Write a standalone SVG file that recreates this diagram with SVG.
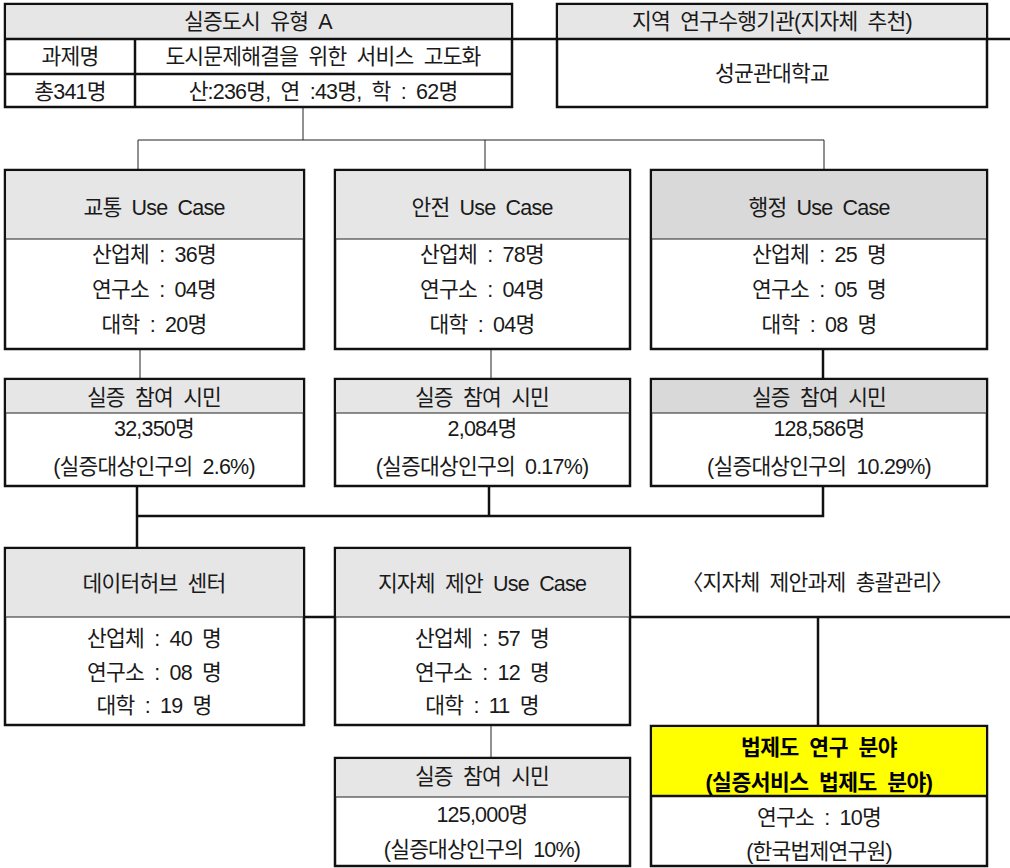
<svg xmlns="http://www.w3.org/2000/svg" width="1010" height="868" viewBox="0 0 1010 868">
<style>
text{font-family:"Liberation Sans","Noto Sans CJK KR",sans-serif;font-size:21.5px;fill:#1a1a1a;text-anchor:middle;word-spacing:5px;letter-spacing:-0.8px}
.b{font-weight:bold;fill:#000;letter-spacing:-0.5px}
.box{fill:#fff;stroke:#111;stroke-width:2.5}
.h1{fill:#e6e6e6}
.h2{fill:#d9d9d9}
.hy{fill:#ffff00}
.thin{stroke:#222;stroke-width:1;fill:none}
.thick{stroke:#111;stroke-width:2.5;fill:none}
</style>
<g id="connectors">
<line class="thick" x1="512" y1="39" x2="1010" y2="39"/>
<polyline class="thin" points="303,107 303,140"/>
<polyline class="thin" points="138,170 138,140 824,140 824,170"/>
<line class="thin" x1="485" y1="140" x2="485" y2="170"/>
<line class="thin" x1="140" y1="349" x2="140" y2="379"/>
<line class="thin" x1="491" y1="349" x2="491" y2="379"/>
<line class="thick" x1="823" y1="349" x2="823" y2="379"/>
<line class="thick" x1="137" y1="486" x2="137" y2="548"/>
<polyline class="thick" points="137,516 823,516 823,486"/>
<line class="thick" x1="489" y1="486" x2="489" y2="516"/>
<line class="thick" x1="304" y1="617" x2="335" y2="617"/>
<line class="thick" x1="630" y1="617" x2="1010" y2="617"/>
<line class="thick" x1="818" y1="617" x2="818" y2="726"/>
<line class="thin" x1="491" y1="725" x2="491" y2="758"/>
</g>
<g id="type-a">
<rect class="box" x="5" y="4" width="507" height="103"/>
<rect class="h1" x="6.2" y="5.2" width="504.6" height="33.8"/>
<line class="thick" x1="5" y1="39" x2="512" y2="39"/>
<line class="thick" x1="5" y1="74" x2="512" y2="74"/>
<line class="thick" x1="135" y1="39" x2="135" y2="107"/>
<text x="258" y="29">실증도시 유형 A</text>
<text x="70" y="64">과제명</text>
<text x="323" y="64">도시문제해결을 위한 서비스 고도화</text>
<text x="70" y="99">총341명</text>
<text x="323" y="99">산:236명, 연 :43명, 학 : 62명</text>
</g>
<g id="research-org">
<rect class="box" x="557" y="4" width="430" height="103"/>
<rect class="h1" x="558.2" y="5.2" width="427.6" height="33.8"/>
<line class="thick" x1="557" y1="39" x2="987" y2="39"/>
<text x="772" y="29">지역 연구수행기관(지자체 추천)</text>
<text x="772" y="81">성균관대학교</text>
</g>
<g id="traffic">
<rect class="box" x="5" y="170" width="299" height="179"/>
<rect class="h1" x="6.2" y="171.2" width="296.6" height="67.8"/>
<line class="thin" x1="5" y1="239" x2="304" y2="239"/>
<text x="154" y="215">교통 Use Case</text>
<text x="154" y="262">산업체 : 36명</text>
<text x="154" y="297">연구소 : 04명</text>
<text x="154" y="332">대학 : 20명</text>
</g>
<g id="safety">
<rect class="box" x="335" y="170" width="295" height="179"/>
<rect class="h1" x="336.2" y="171.2" width="292.6" height="67.8"/>
<line class="thin" x1="335" y1="239" x2="630" y2="239"/>
<text x="482" y="215">안전 Use Case</text>
<text x="482" y="262">산업체 : 78명</text>
<text x="482" y="297">연구소 : 04명</text>
<text x="482" y="332">대학 : 04명</text>
</g>
<g id="admin">
<rect class="box" x="651" y="170" width="336" height="179"/>
<rect class="h2" x="652.2" y="171.2" width="333.6" height="67.8"/>
<line class="thin" x1="651" y1="239" x2="987" y2="239"/>
<text x="819" y="215">행정 Use Case</text>
<text x="819" y="262">산업체 : 25 명</text>
<text x="819" y="297">연구소 : 05 명</text>
<text x="819" y="332">대학 : 08 명</text>
</g>
<g id="citizen-traffic">
<rect class="box" x="5" y="379" width="299" height="107"/>
<rect class="h1" x="6.2" y="380.2" width="296.6" height="32.8"/>
<line class="thin" x1="5" y1="413" x2="304" y2="413"/>
<text x="154" y="405">실증 참여 시민</text>
<text x="154" y="436">32,350명</text>
<text x="154" y="474">(실증대상인구의 2.6%)</text>
</g>
<g id="citizen-safety">
<rect class="box" x="335" y="379" width="295" height="107"/>
<rect class="h1" x="336.2" y="380.2" width="292.6" height="32.8"/>
<line class="thin" x1="335" y1="413" x2="630" y2="413"/>
<text x="482" y="405">실증 참여 시민</text>
<text x="482" y="436">2,084명</text>
<text x="482" y="474">(실증대상인구의 0.17%)</text>
</g>
<g id="citizen-admin">
<rect class="box" x="651" y="379" width="336" height="107"/>
<rect class="h2" x="652.2" y="380.2" width="333.6" height="32.8"/>
<line class="thin" x1="651" y1="413" x2="987" y2="413"/>
<text x="819" y="405">실증 참여 시민</text>
<text x="819" y="436">128,586명</text>
<text x="819" y="474">(실증대상인구의 10.29%)</text>
</g>
<g id="datahub">
<rect class="box" x="5" y="548" width="299" height="177"/>
<rect class="h1" x="6.2" y="549.2" width="296.6" height="67.8"/>
<line class="thin" x1="5" y1="617" x2="304" y2="617"/>
<text x="154" y="591">데이터허브 센터</text>
<text x="154" y="646">산업체 : 40 명</text>
<text x="154" y="680">연구소 : 08 명</text>
<text x="154" y="713">대학 : 19 명</text>
</g>
<g id="local-gov">
<rect class="box" x="335" y="548" width="295" height="177"/>
<rect class="h1" x="336.2" y="549.2" width="292.6" height="67.8"/>
<line class="thin" x1="335" y1="617" x2="630" y2="617"/>
<text x="482" y="591">지자체 제안 Use Case</text>
<text x="482" y="646">산업체 : 57 명</text>
<text x="482" y="680">연구소 : 12 명</text>
<text x="482" y="713">대학 : 11 명</text>
</g>
<g id="overall-label">
<text x="817" y="590">〈지자체 제안과제 총괄관리〉</text>
</g>
<g id="citizen-local">
<rect class="box" x="335" y="758" width="295" height="108"/>
<rect class="h1" x="336.2" y="759.2" width="292.6" height="37.8"/>
<line class="thin" x1="335" y1="797" x2="630" y2="797"/>
<text x="482" y="784">실증 참여 시민</text>
<text x="482" y="822">125,000명</text>
<text x="482" y="857">(실증대상인구의 10%)</text>
</g>
<g id="legal">
<rect class="box" x="651" y="726" width="336" height="140"/>
<rect class="hy" x="652.2" y="727.2" width="333.6" height="68.8"/>
<line class="thick" x1="651" y1="796" x2="987" y2="796"/>
<text class="b" x="819" y="755">법제도 연구 분야</text>
<text class="b" x="819" y="790">(실증서비스 법제도 분야)</text>
<text x="819" y="825">연구소 : 10명</text>
<text x="819" y="859">(한국법제연구원)</text>
</g>
</svg>
